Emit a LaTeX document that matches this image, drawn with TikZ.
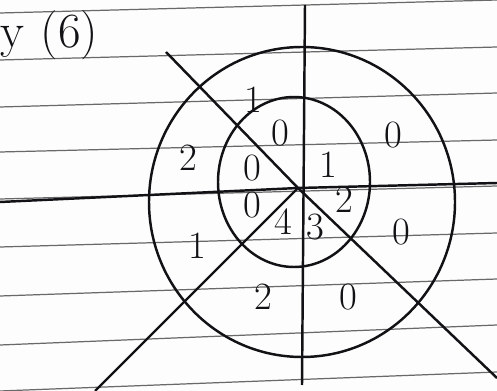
\documentclass[tikz,border=0pt]{standalone}
\usetikzlibrary{positioning}
\usepackage{xcolor}
\definecolor{inkblack}{RGB}{18,18,22}
\definecolor{rulegray}{RGB}{105,105,105}
\definecolor{paperwhite}{RGB}{253,253,253}

\begin{document}
\begin{tikzpicture}[x=0.02cm,y=-0.02cm,
    ink/.style={draw=inkblack,line width=1.4pt},
    ruled/.style={draw=rulegray,line width=0.7pt},
    digit/.style={text=inkblack,inner sep=0pt,font=\fontsize{22}{22}\selectfont}]
  \useasboundingbox (0,0) rectangle (497,391);
  \fill[paperwhite] (0,0) rectangle (497,391);
  % ruled paper
  \foreach \yl/\yr in {13/0,60/47,107/93,152/140,199/186,247/233,296/279,345/325,391/372}
    \draw[ruled] (0,\yl) -- (497,\yr);

  % title
  \node[anchor=west,text=inkblack,font=\fontsize{28}{28}\selectfont,inner sep=0pt]
    (title) at (0,35) {y\,\,(6)};

  % centre and line ends
  \coordinate (ctr) at (298,188);
  \coordinate (topend) at (305,5);
  \coordinate (botend) at (302,385);
  \coordinate (westend) at (0,202);
  \coordinate (eastend) at (497,183);
  \coordinate (nwend) at (166,52);
  \coordinate (swend) at (95,391);
  \coordinate (seend) at (497,378);

  % rings
  \draw[ink] (302,202) ellipse [x radius=153,y radius=155];
  \draw[ink] (294,182) ellipse [x radius=76,y radius=85];

  % spokes
  \draw[ink] (topend) -- (botend);
  \draw[ink] (westend) -- (ctr) -- (eastend);
  \draw[ink] (nwend) -- (ctr);
  \draw[ink] (ctr) -- (swend);
  \draw[ink] (ctr) -- (seend);

  % outer ring values
  \node[digit] (otop) at (253,100) {1};
  \node[digit] (onw) at (188,158) {2};
  \node[digit] (one) at (393,135) {0};
  \node[digit] (oe) at (401,232) {0};
  \node[digit] (ose) at (348,297) {0};
  \node[digit] (os) at (263,297) {2};
  \node[digit] (osw) at (197,246) {1};

  % inner ring values
  \node[digit] (itop) at (280,133) {0};
  \node[digit] (inw) at (252,168) {0};
  \node[digit] (ine) at (328,165) {1};
  \node[digit] (iw) at (252,205) {0};
  \node[digit] (isw) at (283,222) {4};
  \node[digit] (is) at (315,227) {3};
  \node[digit] (ie) at (344,200) {2};
\end{tikzpicture}
\end{document}
